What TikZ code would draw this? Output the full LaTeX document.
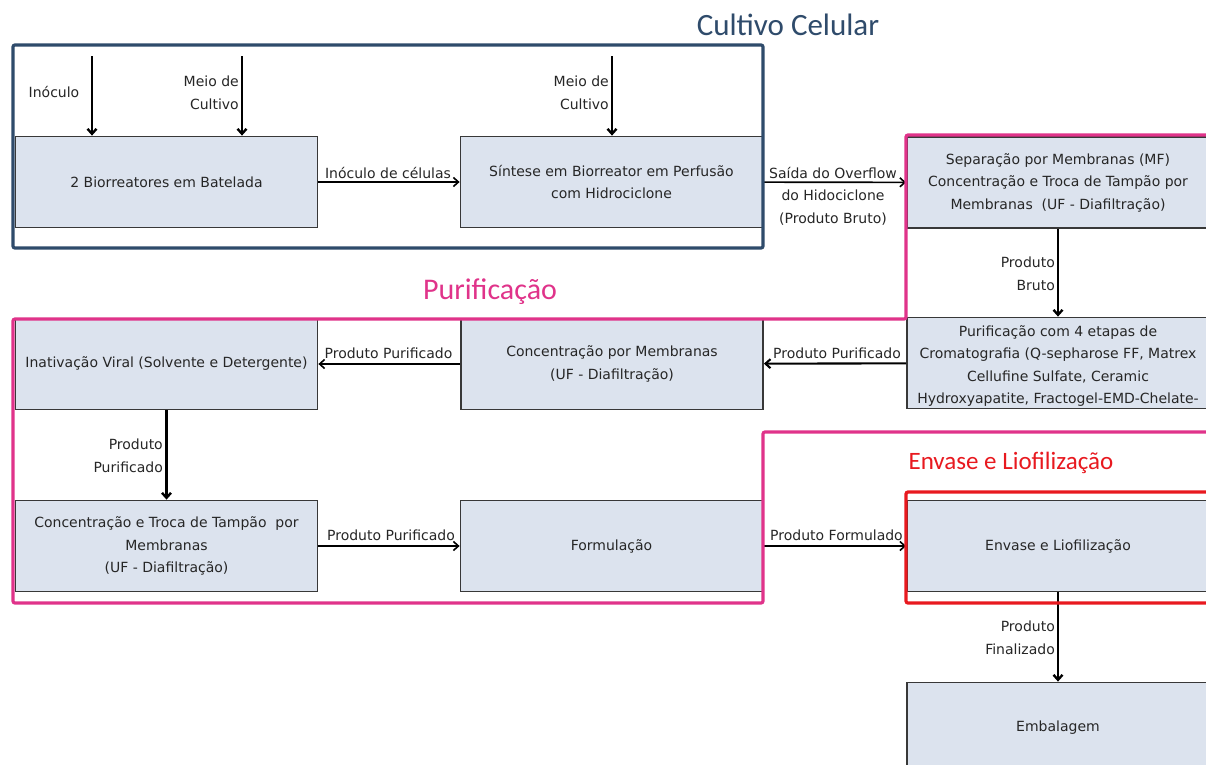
\documentclass[tikz,border=0pt]{standalone}
\usepackage{fontspec}
\setmainfont{DejaVu Sans}
\newfontfamily\titlefont{Carlito}
\usetikzlibrary{arrows.meta}

\definecolor{boxfill}{HTML}{DCE3EE}
\definecolor{boxline}{HTML}{383838}
\definecolor{labelgray}{HTML}{262626}
\definecolor{cultblue}{HTML}{2F4B6B}
\definecolor{purpink}{HTML}{E0338A}
\definecolor{envred}{HTML}{E8191F}

\tikzset{
  stage/.style={draw=boxline, fill=boxfill, line width=1.8pt,
    minimum width=302pt, minimum height=91pt, inner sep=0pt,
    align=center, text=labelgray, font=\fontsize{14}{22.5}\selectfont},
  flow/.style={-{Straight Barb[length=5pt,width=9pt]}, line width=1.6pt, black},
  feed/.style={flow, line width=2.4pt},
  lbl/.style={text=labelgray, font=\fontsize{14}{22.5}\selectfont, inner sep=0pt},
  frame/.style={line width=3.2pt, rounded corners=2pt},
  title/.style={inner sep=0pt},
}

\begin{document}
\begin{tikzpicture}[x=1pt,y=-1pt]
\useasboundingbox (0,0) rectangle (1206,764);
\clip (0,0) rectangle (1206,764);
\fill[white] (0,0) rectangle (1206,764);

% process stages
\node[stage] (bat) at (166.5,182) {2 Biorreatores em Batelada};
\node[stage] (per) at (611.5,182) {Síntese em Biorreator em Perfusão\\com Hidrociclone};
\node[stage] (sep) at (1058,182.5) {Separação por Membranas (MF)\\Concentração e Troca de Tampão por\\Membranas~ (UF - Diafiltração)};
\node[stage] (cro) at (1058,363) {};
\node[lbl, align=center] (cro-txt) at (1058,366) {Purificação com 4 etapas de\\Cromatografia (Q-sepharose FF, Matrex\\Cellufine Sulfate, Ceramic\\Hydroxyapatite, Fractogel-EMD-Chelate-};
\node[stage] (cmb) at (612,364) {Concentração por Membranas\\(UF - Diafiltração)};
\node[stage] (ina) at (166.5,364) {Inativação Viral (Solvente e Detergente)};
\node[stage] (ctt) at (166.5,546) {Concentração e Troca de Tampão~ por\\Membranas\\(UF - Diafiltração)};
\node[stage] (frm) at (611.5,546) {Formulação};
\node[stage] (env) at (1058,546) {Envase e Liofilização};
\node[stage] (emb) at (1058,728) {Embalagem};

% feed inlets
\coordinate (inoc) at (92,56);
\coordinate (meio1) at (242,56);
\coordinate (meio2) at (612,56);
\draw[feed] (inoc) -- (inoc |- bat.north);
\draw[feed] (meio1) -- (meio1 |- bat.north);
\draw[feed] (meio2) -- (meio2 |- per.north);

% product flow
\draw[flow] (bat) -- (per);
\draw[flow] (per) -- (sep);
\draw[feed] (sep) -- (cro);
\draw[flow, line width=2.1pt] (cro) -- (cmb);
\draw[flow] (cmb) -- (ina);
\draw[feed] (ina) -- (ctt);
\draw[flow] (ctt) -- (frm);
\draw[flow] (frm) -- (env);
\draw[feed] (env) -- (emb);

% flow labels
\node[lbl] (l-inoc) at (54,92) {Inóculo};
\node[lbl, align=right, anchor=east] (l-meio1) at (239,93) {Meio de\\Cultivo};
\node[lbl, align=right, anchor=east] (l-meio2) at (609,93) {Meio de\\Cultivo};
\node[lbl, anchor=base] (l-cel) at (388,178) {Inóculo de células};
\node[lbl, align=center] (l-ovf) at (833,196) {Saída do Overflow\\do Hidociclone\\(Produto Bruto)};
\node[lbl, align=right, anchor=east] (l-bruto) at (1055,274) {Produto\\Bruto};
\node[lbl, anchor=base] (l-pp1) at (837,358) {Produto Purificado};
\node[lbl, anchor=base] (l-pp2) at (388.5,358) {Produto Purificado};
\node[lbl, align=right, anchor=east] (l-pp3) at (163,456) {Produto\\Purificado};
\node[lbl, anchor=base] (l-pp4) at (391,540) {Produto Purificado};
\node[lbl, anchor=base] (l-pf) at (836.5,540) {Produto Formulado};
\node[lbl, align=right, anchor=east] (l-fin) at (1055,638) {Produto\\Finalizado};

% section frames
\draw[frame, cultblue] (13,45) rectangle (763,248);
\draw[frame, purpink] (1215,135) -- (906,135) -- (906,319) -- (13,319)
  -- (13,603) -- (763,603) -- (763,432) -- (1215,432);
\draw[frame, envred] (906,492) rectangle (1215,603);

% section titles
\node[title, text=cultblue, font=\titlefont\fontsize{31}{31}\selectfont] (t-cult) at (788,25) {Cultivo Celular};
\node[title, text=purpink, font=\titlefont\fontsize{30}{30}\selectfont] (t-pur) at (490,292) {Purificação};
\node[title, text=envred, font=\titlefont\fontsize{25}{25}\selectfont] (t-env) at (1011,463) {Envase e Liofilização};
\end{tikzpicture}
\end{document}
